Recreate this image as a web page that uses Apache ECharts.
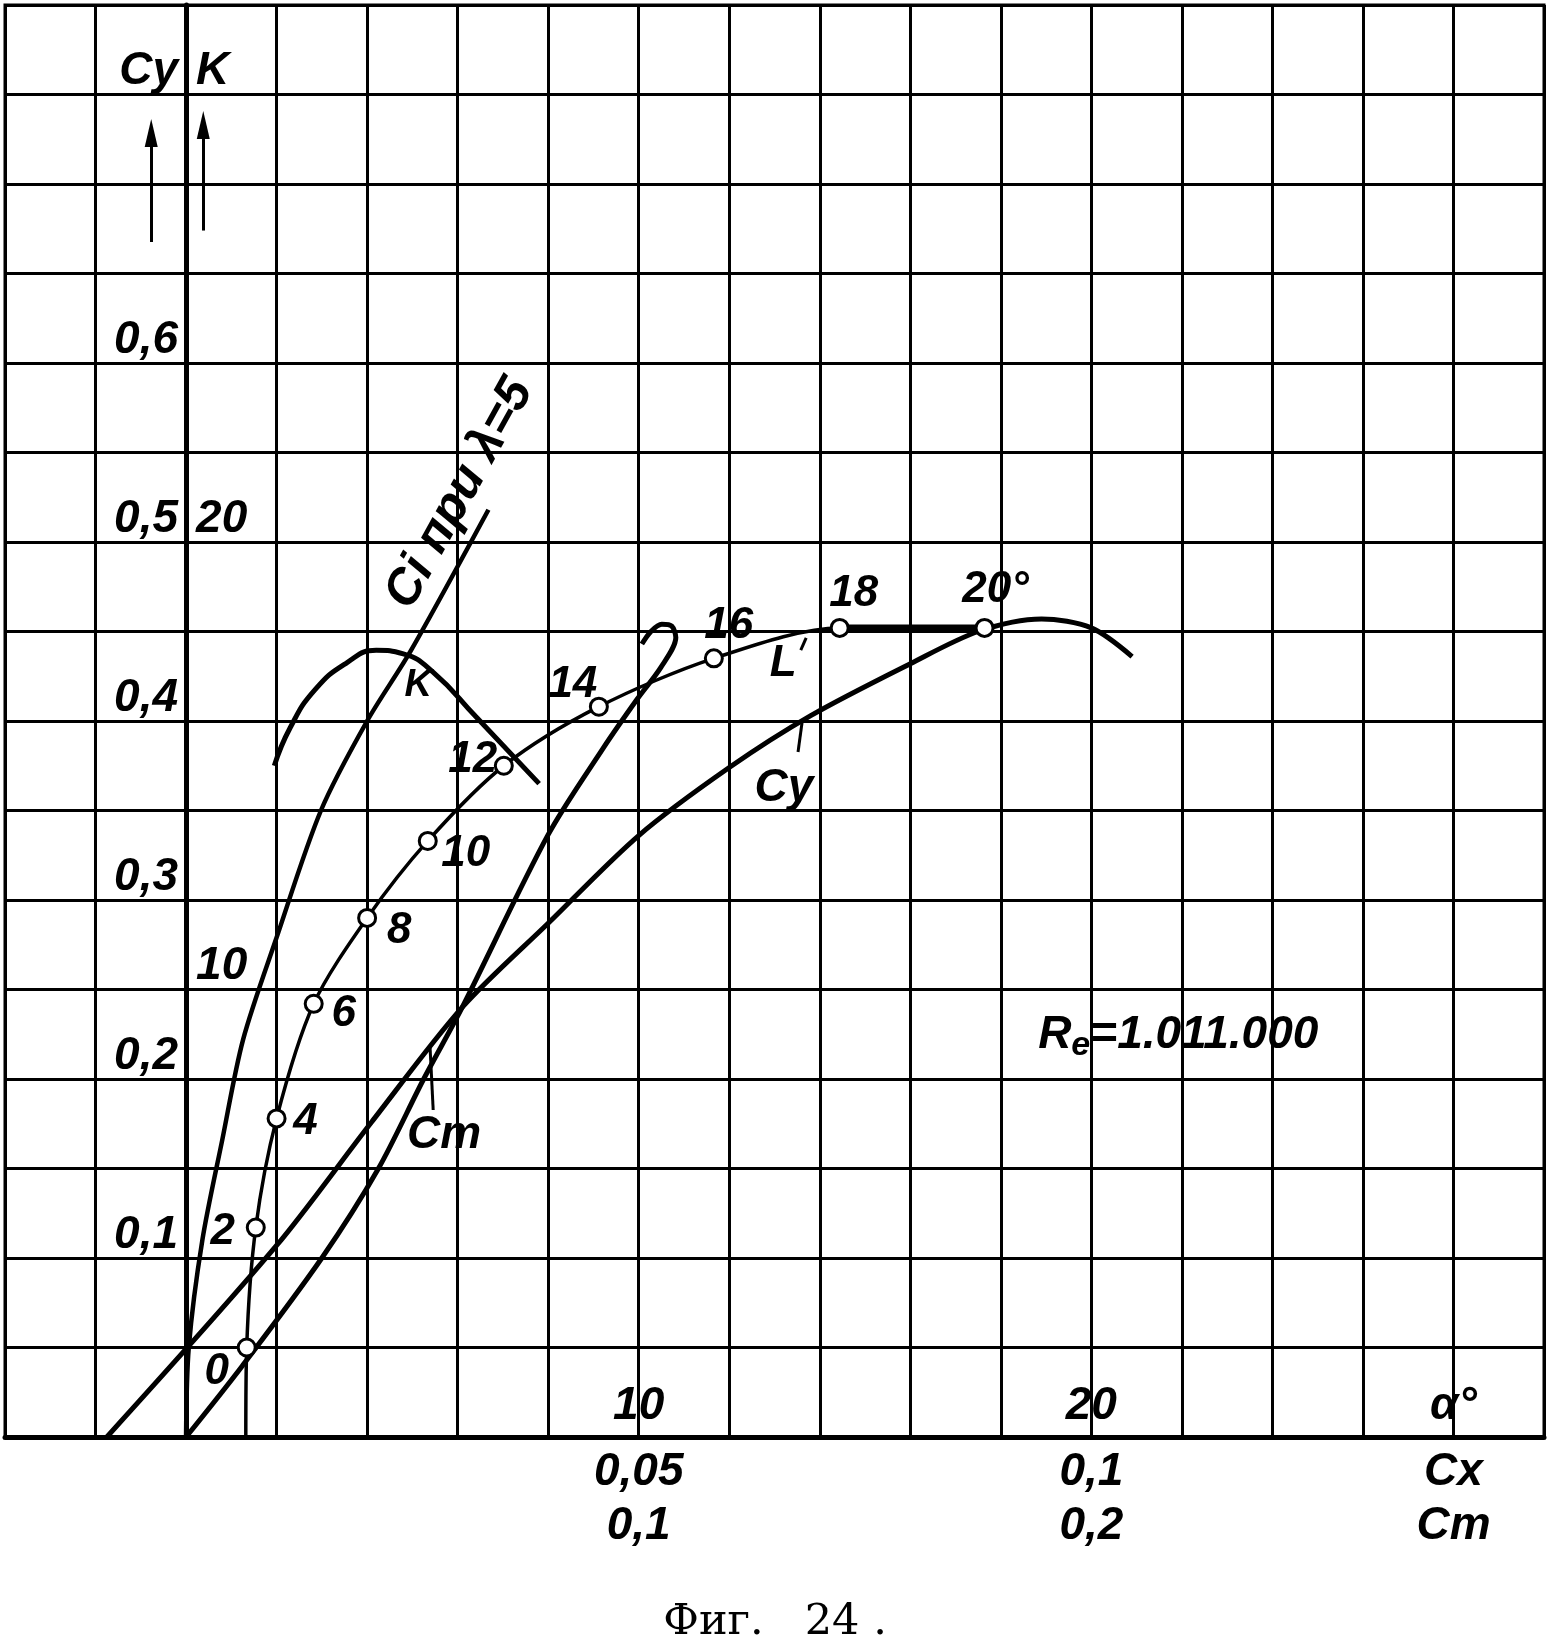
<!DOCTYPE html>
<html>
<head>
<meta charset="utf-8">
<script src="https://cdn.jsdelivr.net/npm/echarts@6/dist/echarts.min.js"></script>
<style>
html,body{margin:0;padding:0;background:#ffffff;}
#chart{width:1550px;height:1652px;}
</style>
</head>
<body>
<div id="chart"></div>
<script>
// ---------- data ----------
// Polar curve L : Cx against Cy, points marked with angle of attack
const polarLabels = ['', '0', '2', '4', '6', '8', '10', '12', '14', '16', '18', '20°'];
const polarCx = [0.0066, 0.0067, 0.0077, 0.0100, 0.0141, 0.0200, 0.0267, 0.0351, 0.0456, 0.0583, 0.0722, 0.0882];
const polarCy = [0.000, 0.050, 0.117, 0.178, 0.242, 0.290, 0.333, 0.375, 0.408, 0.435, 0.452, 0.452];

// Cy against angle of attack
const cyAlpha  = [-1.75, 2.0, 4.1, 6.1, 8.0, 10.0, 12.0, 13.8, 16.0, 17.5, 18.9, 20.0, 20.9];
const cyValues = [0.000, 0.107, 0.176, 0.240, 0.287, 0.336, 0.374, 0.403, 0.432, 0.450, 0.457, 0.452, 0.436];

// Cm against Cy
const cmValues = [0.0000, 0.0125, 0.0300, 0.0425, 0.0525, 0.0610, 0.0800, 0.0922, 0.0996, 0.1049, 0.1082, 0.1073, 0.1051, 0.1027, 0.1007];
const cmCy     = [0.000, 0.040, 0.100, 0.150, 0.200, 0.240, 0.3365, 0.385, 0.412, 0.430, 0.4466, 0.453, 0.454, 0.450, 0.443];

// K = Cy/Cx against angle of attack
const kAlpha  = [1.95, 2.30, 2.85, 3.55, 4.20, 4.80, 5.45, 6.40, 7.80];
const kValues = [15.0, 15.85, 16.7, 17.3, 17.58, 17.5, 17.1, 16.1, 14.6];

// induced drag Ci for aspect ratio 5, against Cy
const ciCx = [0.0000, 0.0003, 0.0018, 0.0040, 0.0063, 0.0100, 0.0149, 0.0200, 0.0248, 0.0334];
const ciCy = [0.000, 0.050, 0.110, 0.166, 0.222, 0.279, 0.350, 0.400, 0.439, 0.518];

// tick labels
const cyTickLabels = {10: '0,1', 20: '0,2', 30: '0,3', 40: '0,4', 50: '0,5', 60: '0,6', 75: 'Cy'};
const kTickLabels = {10: '10', 20: '20', 30: 'K'};
const alphaTickLabels = {10: '10', 20: '20', 28: 'α°'};
const cxTickLabels = {5: '0,05', 10: '0,1', 14: 'Cx'};
const cmTickLabels = {10: '0,1', 20: '0,2', 28: 'Cm'};

// ---------- layout / style (kept apart from the data) ----------
const pointLabelOffsets = [[0,0],[-30,24],[-33,4],[29,3],[30,10],[32,13],[38,13],[-31,-6],[-26,-22],[15,-32],[14,-34],[11,-38]];
const annotations = [
  {text: 'K', alpha: 5.13, cy: 0.420, size: 38, rotate: 0},
  {text: 'L', alpha: 13.19, cy: 0.432, size: 44, rotate: 0},
  {text: 'Cy', alpha: 13.21, cy: 0.3626, size: 46, rotate: 0},
  {text: 'Cm', alpha: 5.70, cy: 0.1687, size: 46, rotate: 0},
  {text: 'Ci при λ=5', alpha: 6.05, cy: 0.527, size: 50, rotate: 61},
  {text: '{r|R}{e|e}{r|=1.011.000}', alpha: 21.92, cy: 0.2246, size: 46, rotate: 0}
];
const arrows = [
  [[-0.77, 0.6676], [-0.77, 0.7285]],
  [[0.38, 0.674], [0.38, 0.733]]
];
const pointerTicks = [
  [[5.46, 0.1827], [5.39, 0.2179]],
  [[13.52, 0.3827], [13.61, 0.3994]],
  [[13.58, 0.4396], [13.70, 0.4464]]
];

const FONT = "'Liberation Sans', Arial, sans-serif";
const txt = {fontFamily: FONT, fontStyle: 'italic', fontWeight: 'bold', color: '#000'};
const BLACK = '#000';

function pick(map, key) { return map[key] !== undefined ? map[key] : ''; }
function zip(a, b) { return a.map((v, i) => [v, b[i]]); }

const chart = echarts.init(document.getElementById('chart'), null, {renderer: 'canvas'});

const gridLeft = 5, gridWidth = 1539;
const zeroOffset = -(gridWidth / 34) * 4;

const option = {
  animation: false,
  backgroundColor: '#ffffff',
  title: {
    text: 'Фиг.   24 .',
    left: 'center',
    top: 1596,
    textStyle: {fontFamily: "'DejaVu Serif', 'Liberation Serif', serif", fontSize: 43, fontWeight: 'normal', color: BLACK}
  },
  grid: {left: gridLeft, top: 5, width: gridWidth, height: 1432, show: true, borderColor: BLACK, borderWidth: 3, backgroundColor: 'transparent'},
  xAxis: [
    {
      type: 'value', min: -4, max: 30, interval: 2, position: 'bottom',
      axisLine: {show: true, onZero: false, lineStyle: {color: BLACK, width: 5}},
      axisTick: {show: false},
      splitLine: {show: true, lineStyle: {color: BLACK, width: 3}},
      axisLabel: Object.assign({inside: true, margin: 8, fontSize: 46,
        formatter: v => pick(alphaTickLabels, Math.round(v))}, txt)
    },
    {
      type: 'value', min: -0.02, max: 0.15, interval: 0.01, position: 'bottom',
      axisLine: {show: false, onZero: false}, axisTick: {show: false}, splitLine: {show: false},
      axisLabel: Object.assign({margin: 12, fontSize: 46,
        formatter: v => pick(cxTickLabels, Math.round(v * 100))}, txt)
    },
    {
      type: 'value', min: -0.04, max: 0.30, interval: 0.02, position: 'bottom',
      axisLine: {show: false, onZero: false}, axisTick: {show: false}, splitLine: {show: false},
      axisLabel: Object.assign({margin: 66, fontSize: 46,
        formatter: v => pick(cmTickLabels, Math.round(v * 100))}, txt)
    }
  ],
  yAxis: [
    {
      type: 'value', min: 0, max: 0.8, interval: 0.05, position: 'left', offset: zeroOffset,
      axisLine: {show: true, onZero: false, lineStyle: {color: BLACK, width: 5}},
      axisTick: {show: false},
      splitLine: {show: true, lineStyle: {color: BLACK, width: 3}},
      axisLabel: Object.assign({margin: 8, fontSize: 46, verticalAlign: 'bottom', align: 'right',
        formatter: v => pick(cyTickLabels, Math.round(v * 100))}, txt)
    },
    {
      type: 'value', min: 0, max: 32, interval: 2, position: 'left', offset: zeroOffset,
      axisLine: {show: false, onZero: false}, axisTick: {show: false}, splitLine: {show: false},
      axisLabel: Object.assign({inside: true, margin: 10, fontSize: 46, verticalAlign: 'bottom', align: 'left',
        formatter: v => pick(kTickLabels, Math.round(v))}, txt)
    }
  ],
  series: [
    {
      name: 'Ci', type: 'line', xAxisIndex: 1, yAxisIndex: 0, smooth: 0.3, symbol: 'none', silent: true, z: 3,
      lineStyle: {color: BLACK, width: 4.5}, data: zip(ciCx, ciCy)
    },
    {
      name: 'K', type: 'line', xAxisIndex: 0, yAxisIndex: 1, smooth: 0.5, symbol: 'none', silent: true, z: 3,
      lineStyle: {color: BLACK, width: 5}, data: zip(kAlpha, kValues)
    },
    {
      name: 'Cy', type: 'line', xAxisIndex: 0, yAxisIndex: 0, smooth: 0.3, symbol: 'none', silent: true, z: 3,
      lineStyle: {color: BLACK, width: 5}, data: zip(cyAlpha, cyValues)
    },
    {
      name: 'Cm', type: 'line', xAxisIndex: 2, yAxisIndex: 0, smooth: 0.3, symbol: 'none', silent: true, z: 3,
      lineStyle: {color: BLACK, width: 5}, data: zip(cmValues, cmCy)
    },
    {
      name: 'L thick', type: 'line', xAxisIndex: 1, yAxisIndex: 0, symbol: 'none', silent: true, z: 4,
      lineStyle: {color: BLACK, width: 7}, data: zip(polarCx.slice(-2), polarCy.slice(-2))
    },
    {
      name: 'L', type: 'line', xAxisIndex: 1, yAxisIndex: 0, smooth: 0.3, silent: true, z: 5,
      showAllSymbol: true, symbol: 'circle', symbolSize: 17,
      itemStyle: {color: '#ffffff', borderColor: BLACK, borderWidth: 3},
      lineStyle: {color: BLACK, width: 3.5},
      data: polarCx.map((x, i) => ({
        value: [x, polarCy[i]],
        symbol: polarLabels[i] === '' ? 'none' : 'circle',
        label: {
          show: polarLabels[i] !== '', position: 'inside', offset: pointLabelOffsets[i],
          formatter: polarLabels[i], fontSize: 44, fontFamily: FONT, fontStyle: 'italic', fontWeight: 'bold', color: BLACK
        }
      }))
    },
    {
      name: 'annotations', type: 'scatter', xAxisIndex: 0, yAxisIndex: 0, symbolSize: 1, silent: true, z: 6,
      itemStyle: {color: 'rgba(0,0,0,0)', opacity: 1},
      data: annotations.map(a => ({
        value: [a.alpha, a.cy],
        itemStyle: {opacity: 1},
        label: {
          show: true, position: 'inside', formatter: a.text, rotate: a.rotate, fontSize: a.size,
          fontFamily: FONT, fontStyle: 'italic', fontWeight: 'bold', color: BLACK, opacity: 1,
          rich: {
            r: {fontSize: 46, fontFamily: FONT, fontStyle: 'italic', fontWeight: 'bold', color: BLACK},
            e: {fontSize: 34, fontFamily: FONT, fontStyle: 'italic', fontWeight: 'bold', color: BLACK, padding: [22, 0, 0, 0]}
          }
        }
      })),
      markLine: {
        silent: true, animation: false, label: {show: false},
        lineStyle: {color: BLACK, width: 3, type: 'solid', opacity: 1},
        data: arrows.map(a => [{coord: a[0], symbol: 'none'}, {coord: a[1], symbol: 'triangle', symbolSize: [13, 28]}])
          .concat(pointerTicks.map(a => [{coord: a[0], symbol: 'none'}, {coord: a[1], symbol: 'none'}]))
      }
    }
  ]
};
chart.setOption(option);
</script>
</body>
</html>
